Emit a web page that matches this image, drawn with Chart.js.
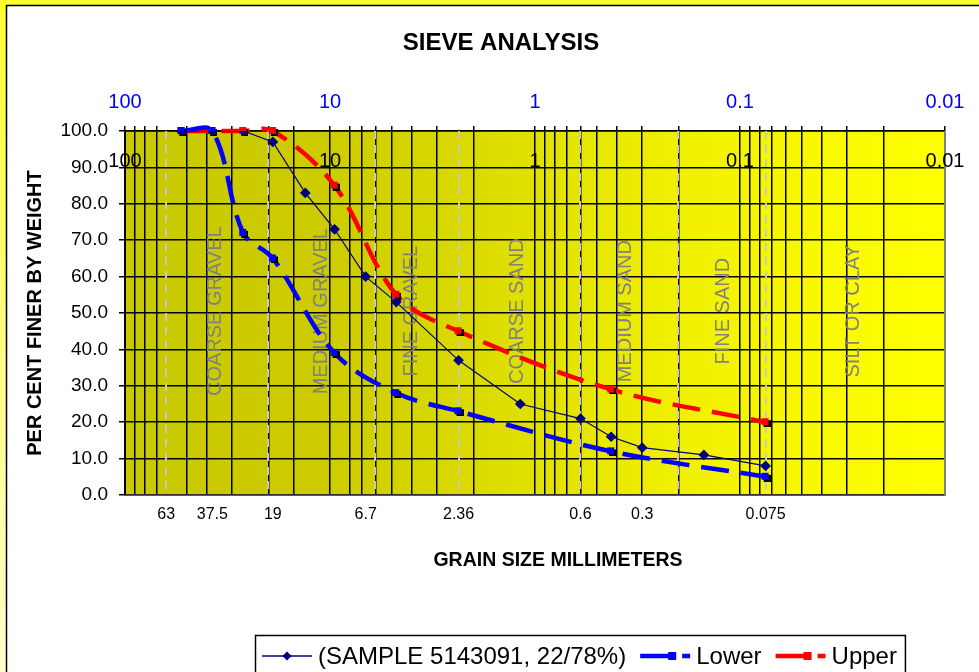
<!DOCTYPE html>
<html>
<head>
<meta charset="utf-8">
<title>Sieve analysis</title>
<script src="https://cdn.jsdelivr.net/npm/chart.js@4.4.0/dist/chart.umd.min.js"></script>
<style>
  html, body { margin: 0; padding: 0; background: #fff; }
  canvas { display: block; }
</style>
</head>
<body>
<canvas id="myChart" width="979" height="672"></canvas>
<script>
// sieve sizes (mm) and percent passing
const sampleSizes = [53, 37.5, 26.5, 19, 13.2, 9.5, 6.7, 4.75, 2.36, 1.18, 0.6, 0.425, 0.3, 0.15, 0.075];
const samplePassing = [100, 100, 100, 97, 83, 73, 60, 53, 37, 25, 21, 16, 13, 11, 8];
const lowerSizes = [53, 37.5, 26.5, 19, 9.5, 4.75, 2.36, 0.425, 0.075];
const lowerPassing = [100, 100, 72, 65, 39, 28, 23, 12, 5];
const upperSizes = [53, 37.5, 26.5, 19, 9.5, 4.75, 2.36, 0.425, 0.075];
const upperPassing = [100, 100, 100, 100, 85, 55, 45, 29, 20];

// axis labels and grid
const sieveLabels = [63, 37.5, 19, 6.7, 2.36, 0.6, 0.3, 0.075];
const decadeLabels = [100, 10, 1, 0.1, 0.01];
const gridSizes = [100, 90, 80, 70, 50, 40, 30, 20, 15, 10, 8, 7, 6, 5, 4, 3, 2,
  1, 0.9, 0.8, 0.7, 0.6, 0.5, 0.4, 0.3, 0.2,
  0.1, 0.09, 0.08, 0.07, 0.06, 0.05, 0.04, 0.03, 0.02, 0.01];

// soil zones
const zoneBounds = [63, 20, 6, 2.36, 0.6, 0.2, 0.075];
const zoneNames = ['COARSE GRAVEL', 'MEDIUM GRAVEL', 'FINE GRAVEL', 'COARSE SAND', 'MEDIUM SAND', 'FINE SAND', 'SILT OR CLAY'];
const zoneCentres = [36, 11, 4, 1.22, 0.36, 0.12, 0.028];

const FONT = 'Arial, "Liberation Sans", sans-serif';

function pairs(xs, ys) {
  return xs.map((x, i) => ({ x: x, y: ys[i] }));
}

// square marker with black drop shadow, like the excel one
function shadowSquare(color) {
  const c = document.createElement('canvas');
  c.width = 10; c.height = 10;
  const g = c.getContext('2d');
  g.fillStyle = '#000'; g.fillRect(3, 3, 7, 7);
  g.fillStyle = color; g.fillRect(1, 1, 7, 7);
  return c;
}

const backdrop = {
  id: 'backdrop',
  beforeDraw(chart) {
    const { ctx, chartArea: a, width, height } = chart;
    ctx.save();
    let g = ctx.createLinearGradient(0, 0, 0, height);
    g.addColorStop(0, '#ffff33');
    g.addColorStop(1, '#ffffcc');
    ctx.fillStyle = g;
    ctx.fillRect(0, 0, width, height);
    ctx.fillStyle = '#fff';
    ctx.fillRect(7, 6, width, height);
    ctx.strokeStyle = '#000';
    ctx.lineWidth = 1.5;
    ctx.strokeRect(6.5, 5.5, width + 10, height + 10);

    g = ctx.createLinearGradient(a.left, 0, a.right, 0);
    g.addColorStop(0, '#c9c900');
    g.addColorStop(0.25, '#cccc00');
    g.addColorStop(0.7, '#f2f200');
    g.addColorStop(1, '#ffff00');
    ctx.fillStyle = g;
    ctx.fillRect(a.left, a.top, a.right - a.left, a.bottom - a.top);
    ctx.restore();
  }
};

const zones = {
  id: 'zones',
  beforeDatasetsDraw(chart) {
    const { ctx, chartArea: a } = chart;
    const xs = chart.scales.x, ys = chart.scales.y;
    ctx.save();
    // zone boundaries
    ctx.strokeStyle = '#c8c8c8';
    ctx.lineWidth = 2;
    ctx.setLineDash([8, 6]);
    zoneBounds.forEach(v => {
      const px = Math.round(xs.getPixelForValue(v));
      ctx.beginPath();
      ctx.moveTo(px, a.top);
      ctx.lineTo(px, a.bottom);
      ctx.stroke();
    });
    ctx.setLineDash([]);
    // right border
    ctx.strokeStyle = '#808080';
    ctx.beginPath();
    ctx.moveTo(a.right, a.top);
    ctx.lineTo(a.right, a.bottom);
    ctx.stroke();

    // zone names
    ctx.fillStyle = '#808080';
    ctx.font = '20px ' + FONT;
    ctx.textAlign = 'center';
    ctx.textBaseline = 'middle';
    const cy = ys.getPixelForValue(50.5);
    zoneNames.forEach((name, i) => {
      ctx.save();
      ctx.translate(xs.getPixelForValue(zoneCentres[i]), cy);
      ctx.rotate(-Math.PI / 2);
      ctx.fillText(name, 0, 0);
      ctx.restore();
    });

    // decade labels inside the plot
    ctx.fillStyle = '#000';
    ctx.font = '20px ' + FONT;
    decadeLabels.forEach(v => {
      ctx.fillText(String(v), xs.getPixelForValue(v), a.top + 30);
    });
    ctx.restore();
  }
};

const frameText = {
  id: 'frameText',
  afterDraw(chart) {
    const ctx = chart.ctx;
    ctx.save();
    ctx.fillStyle = '#000';
    ctx.font = 'bold 24px ' + FONT;
    ctx.textAlign = 'center';
    ctx.textBaseline = 'middle';
    ctx.fillText('SIEVE ANALYSIS', 501, 43);
    ctx.font = 'bold 19.5px ' + FONT;
    ctx.fillText('GRAIN SIZE MILLIMETERS', 558, 561);

    // legend
    ctx.font = '24px ' + FONT;
    ctx.textAlign = 'left';
    const boxLeft = 255, top = 635, cy = 656;
    let x = boxLeft + 7;
    chart.data.datasets.forEach(ds => {
      ctx.strokeStyle = ds.borderColor;
      if (ds.legendKind === 'solid') {
        ctx.lineWidth = 1.5;
        ctx.beginPath(); ctx.moveTo(x, cy); ctx.lineTo(x + 50, cy); ctx.stroke();
        ctx.fillStyle = ds.borderColor;
        ctx.beginPath();
        ctx.moveTo(x + 25, cy - 4.5); ctx.lineTo(x + 29.5, cy);
        ctx.lineTo(x + 25, cy + 4.5); ctx.lineTo(x + 20.5, cy);
        ctx.closePath(); ctx.fill();
      } else {
        ctx.lineWidth = 4.5;
        ctx.beginPath(); ctx.moveTo(x, cy); ctx.lineTo(x + 32, cy); ctx.stroke();
        ctx.beginPath(); ctx.moveTo(x + 42, cy); ctx.lineTo(x + 50, cy); ctx.stroke();
        ctx.fillStyle = ds.borderColor;
        ctx.fillRect(x + 28, cy - 4, 8, 8);
      }
      x += 56;
      ctx.fillStyle = '#000';
      ctx.fillText(ds.label, x, cy + 1);
      x += ctx.measureText(ds.label).width + 14;
    });
    ctx.strokeStyle = '#000';
    ctx.lineWidth = 1.5;
    ctx.strokeRect(boxLeft + 0.5, top + 0.5, x - boxLeft - 6, 60);
    ctx.restore();
  }
};

const ctx = document.getElementById('myChart').getContext('2d');
const myChart = new Chart(ctx, {
  type: 'line',
  data: {
    datasets: [
      {
        label: '(SAMPLE 5143091, 22/78%)',
        legendKind: 'solid',
        data: pairs(sampleSizes, samplePassing),
        borderColor: '#000080',
        backgroundColor: '#000080',
        borderWidth: 1.2,
        pointStyle: 'rectRot',
        pointRadius: 4.5,
        tension: 0,
        order: 1
      },
      {
        label: 'Lower',
        legendKind: 'dash',
        data: pairs(lowerSizes, lowerPassing),
        borderColor: '#0000ff',
        backgroundColor: '#0000ff',
        borderWidth: 4.5,
        borderDash: [28, 12],
        pointStyle: shadowSquare('#0000ff'),
        tension: 0.35,
        clip: false,
        order: 2
      },
      {
        label: 'Upper',
        legendKind: 'dash',
        data: pairs(upperSizes, upperPassing),
        borderColor: '#ff0000',
        backgroundColor: '#ff0000',
        borderWidth: 4.5,
        borderDash: [28, 12],
        pointStyle: shadowSquare('#ff0000'),
        tension: 0.35,
        clip: false,
        order: 3
      }
    ]
  },
  options: {
    responsive: false,
    devicePixelRatio: 1,
    animation: false,
    elements: { line: { capBezierPoints: false } },
    layout: { padding: { top: 67.4, right: 34, bottom: 92, left: 0 } },
    plugins: {
      legend: { display: false },
      title: { display: false },
      tooltip: { enabled: false }
    },
    scales: {
      x: {
        type: 'logarithmic',
        position: 'bottom',
        min: 0.01,
        max: 100,
        reverse: true,
        afterBuildTicks: s => { s.ticks = sieveLabels.map(v => ({ value: v })); },
        afterFit: s => { s.height = 85; },
        grid: { display: false, drawTicks: false },
        border: { display: true, color: '#333', width: 1.5 },
        ticks: {
          autoSkip: false, maxRotation: 0, padding: 10, color: '#000',
          font: { family: FONT, size: 16 },
          callback: v => String(v)
        }
      },
      xTop: {
        type: 'logarithmic',
        position: 'top',
        min: 0.01,
        max: 100,
        reverse: true,
        afterBuildTicks: s => { s.ticks = gridSizes.map(v => ({ value: v })); },
        afterFit: s => { s.height = 63.6; },
        grid: { color: '#000', lineWidth: 1.5, tickLength: 5 },
        border: { display: true, color: '#000', width: 1.5 },
        ticks: {
          autoSkip: false, maxRotation: 0, padding: 12, color: '#0000ff',
          font: { family: FONT, size: 20 },
          callback: v => decadeLabels.includes(v) ? String(v) : ''
        }
      },
      y: {
        min: 0,
        max: 100,
        afterFit: s => { s.width = 125; },
        grid: { color: '#000', lineWidth: 1.5, tickLength: 6 },
        border: { color: '#000', width: 2 },
        ticks: {
          stepSize: 10, padding: 11, color: '#000',
          font: { family: FONT, size: 19 },
          callback: v => v.toFixed(1)
        },
        title: {
          display: true, text: 'PER CENT FINER BY WEIGHT', color: '#000',
          font: { family: FONT, size: 20, weight: 'bold' },
          padding: { top: 23, bottom: 0 }
        }
      }
    }
  },
  plugins: [backdrop, zones, frameText]
});
</script>
</body>
</html>
